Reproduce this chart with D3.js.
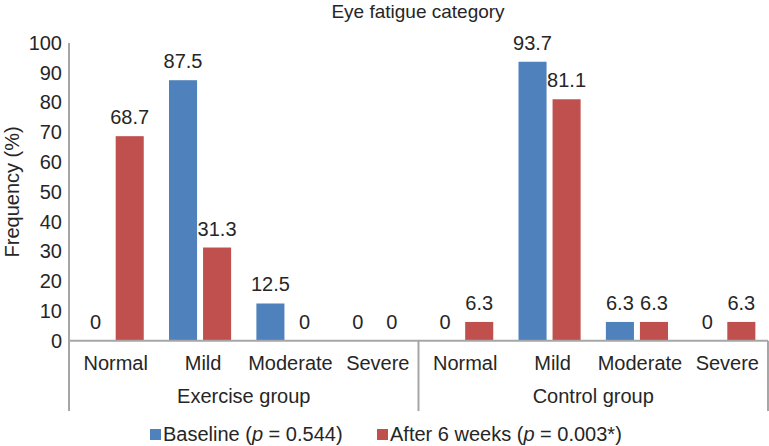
<!DOCTYPE html>
<html>
<head>
<meta charset="utf-8">
<script src="https://cdn.jsdelivr.net/npm/d3@7"></script>
<style>
  body { margin: 0; background: #fff; }
  text { font-family: "Liberation Sans", Arial, sans-serif; fill: #262626; }
</style>
</head>
<body>
<script>
// data
var groups = ["Exercise group", "Control group"];
var levels = ["Normal", "Mild", "Moderate", "Severe"];
var seriesNames = ["Baseline", "After 6 weeks"];
var baselineVals = [0, 87.5, 12.5, 0, 0, 93.7, 6.3, 0];
var afterVals = [68.7, 31.3, 0, 0, 6.3, 81.1, 6.3, 6.3];
var yTicks = [0, 10, 20, 30, 40, 50, 60, 70, 80, 90, 100];

var width = 769, height = 446;
var margin = {top: 43, left: 69, right: 1, bottom: 105};
var colors = ["#4f81bd", "#c0504d"];
var axisColor = "#a6a6a6";
var fs = "20px";

var svg = d3.select("body").append("svg")
    .attr("width", width)
    .attr("height", height);

// one band per (group, level)
var cats = [];
groups.forEach(function(g, gi) {
    levels.forEach(function(l) { cats.push(gi + "|" + l); });
});

var x = d3.scaleBand()
    .domain(cats)
    .range([margin.left, width - margin.right])
    .paddingInner(0).paddingOuter(0);

var xInner = d3.scaleBand()
    .domain(seriesNames)
    .range([0, x.bandwidth()])
    .paddingInner(0.176)
    .paddingOuter(0.371);

var y = d3.scaleLinear()
    .domain([0, 100])
    .range([height - margin.bottom - 0.3, margin.top]);

var y0 = y(0);

// bars
var rows = cats.map(function(c, i) {
    return {cat: c, vals: [baselineVals[i], afterVals[i]]};
});

var catG = svg.selectAll("g.cat")
    .data(rows)
    .enter().append("g")
    .attr("class", "cat")
    .attr("transform", function(d) { return "translate(" + x(d.cat) + ",0)"; });

catG.selectAll("rect")
    .data(function(d) { return d.vals.map(function(v, k) { return {v: v, k: k}; }); })
    .enter().append("rect")
    .attr("x", function(d) { return xInner(seriesNames[d.k]); })
    .attr("width", xInner.bandwidth())
    .attr("y", function(d) { return y(d.v); })
    .attr("height", function(d) { return y0 - y(d.v); })
    .attr("fill", function(d) { return colors[d.k]; });

catG.selectAll("text.val")
    .data(function(d) { return d.vals.map(function(v, k) { return {v: v, k: k}; }); })
    .enter().append("text")
    .attr("class", "val")
    .attr("x", function(d) { return xInner(seriesNames[d.k]) + xInner.bandwidth() / 2; })
    .attr("y", function(d) { return y(d.v) - 12; })
    .attr("text-anchor", "middle")
    .style("font-size", fs)
    .text(function(d) { return d.v; });

// y axis
var yAxis = d3.axisLeft(y).tickValues(yTicks).tickSize(0).tickPadding(7);
var yG = svg.append("g")
    .attr("transform", "translate(" + margin.left + ",0)")
    .call(yAxis);
yG.select(".domain").remove();
yG.selectAll("text")
    .style("font-size", fs)
    .style("font-family", "'Liberation Sans', Arial, sans-serif")
    .attr("fill", "#262626");

// axis lines
var bottomY = 411;
svg.append("line")
    .attr("x1", margin.left).attr("x2", margin.left)
    .attr("y1", margin.top).attr("y2", bottomY)
    .attr("stroke", axisColor).attr("stroke-width", 2);
svg.append("line")
    .attr("x1", margin.left).attr("x2", width - margin.right)
    .attr("y1", y0).attr("y2", y0)
    .attr("stroke", axisColor).attr("stroke-width", 2);

var groupEdges = [x(cats[levels.length]), width - margin.right];
svg.selectAll("line.sep")
    .data(groupEdges)
    .enter().append("line")
    .attr("class", "sep")
    .attr("x1", function(d) { return d; }).attr("x2", function(d) { return d; })
    .attr("y1", y0).attr("y2", bottomY)
    .attr("stroke", axisColor).attr("stroke-width", 2);

// category labels
svg.selectAll("text.lvl")
    .data(cats)
    .enter().append("text")
    .attr("class", "lvl")
    .attr("x", function(d) { return x(d) + x.bandwidth() / 2 + 3; })
    .attr("y", 370)
    .attr("text-anchor", "middle")
    .style("font-size", fs)
    .text(function(d) { return d.split("|")[1]; });

svg.selectAll("text.grp")
    .data(groups)
    .enter().append("text")
    .attr("class", "grp")
    .attr("x", function(d, i) {
        var a = x(cats[i * levels.length]);
        var b = x(cats[i * levels.length + levels.length - 1]) + x.bandwidth();
        return (a + b) / 2;
    })
    .attr("y", 403)
    .attr("text-anchor", "middle")
    .style("font-size", fs)
    .text(function(d) { return d; });

// title
svg.append("text")
    .attr("x", 418)
    .attr("y", 18)
    .attr("text-anchor", "middle")
    .style("font-size", "19px")
    .text("Eye fatigue category");

// y label
svg.append("text")
    .attr("transform", "translate(19," + ((margin.top + y0) / 2) + ") rotate(-90)")
    .attr("text-anchor", "middle")
    .style("font-size", fs)
    .text("Frequency (%)");

// legend
var legendItems = [
    {name: seriesNames[0], p: "0.544)", x: 150},
    {name: seriesNames[1], p: "0.003*)", x: 377}
];
var lg = svg.selectAll("g.leg")
    .data(legendItems)
    .enter().append("g")
    .attr("class", "leg")
    .attr("transform", function(d) { return "translate(" + d.x + ",0)"; });
lg.append("rect")
    .attr("x", 0).attr("y", 429)
    .attr("width", 11).attr("height", 11)
    .attr("fill", function(d, i) { return colors[i]; });
var lt = lg.append("text")
    .attr("x", 13).attr("y", 441)
    .style("font-size", fs);
lt.append("tspan").text(function(d) { return d.name + " ("; });
lt.append("tspan").style("font-style", "italic").text("p");
lt.append("tspan").text(function(d) { return " = " + d.p; });
</script>
</body>
</html>
